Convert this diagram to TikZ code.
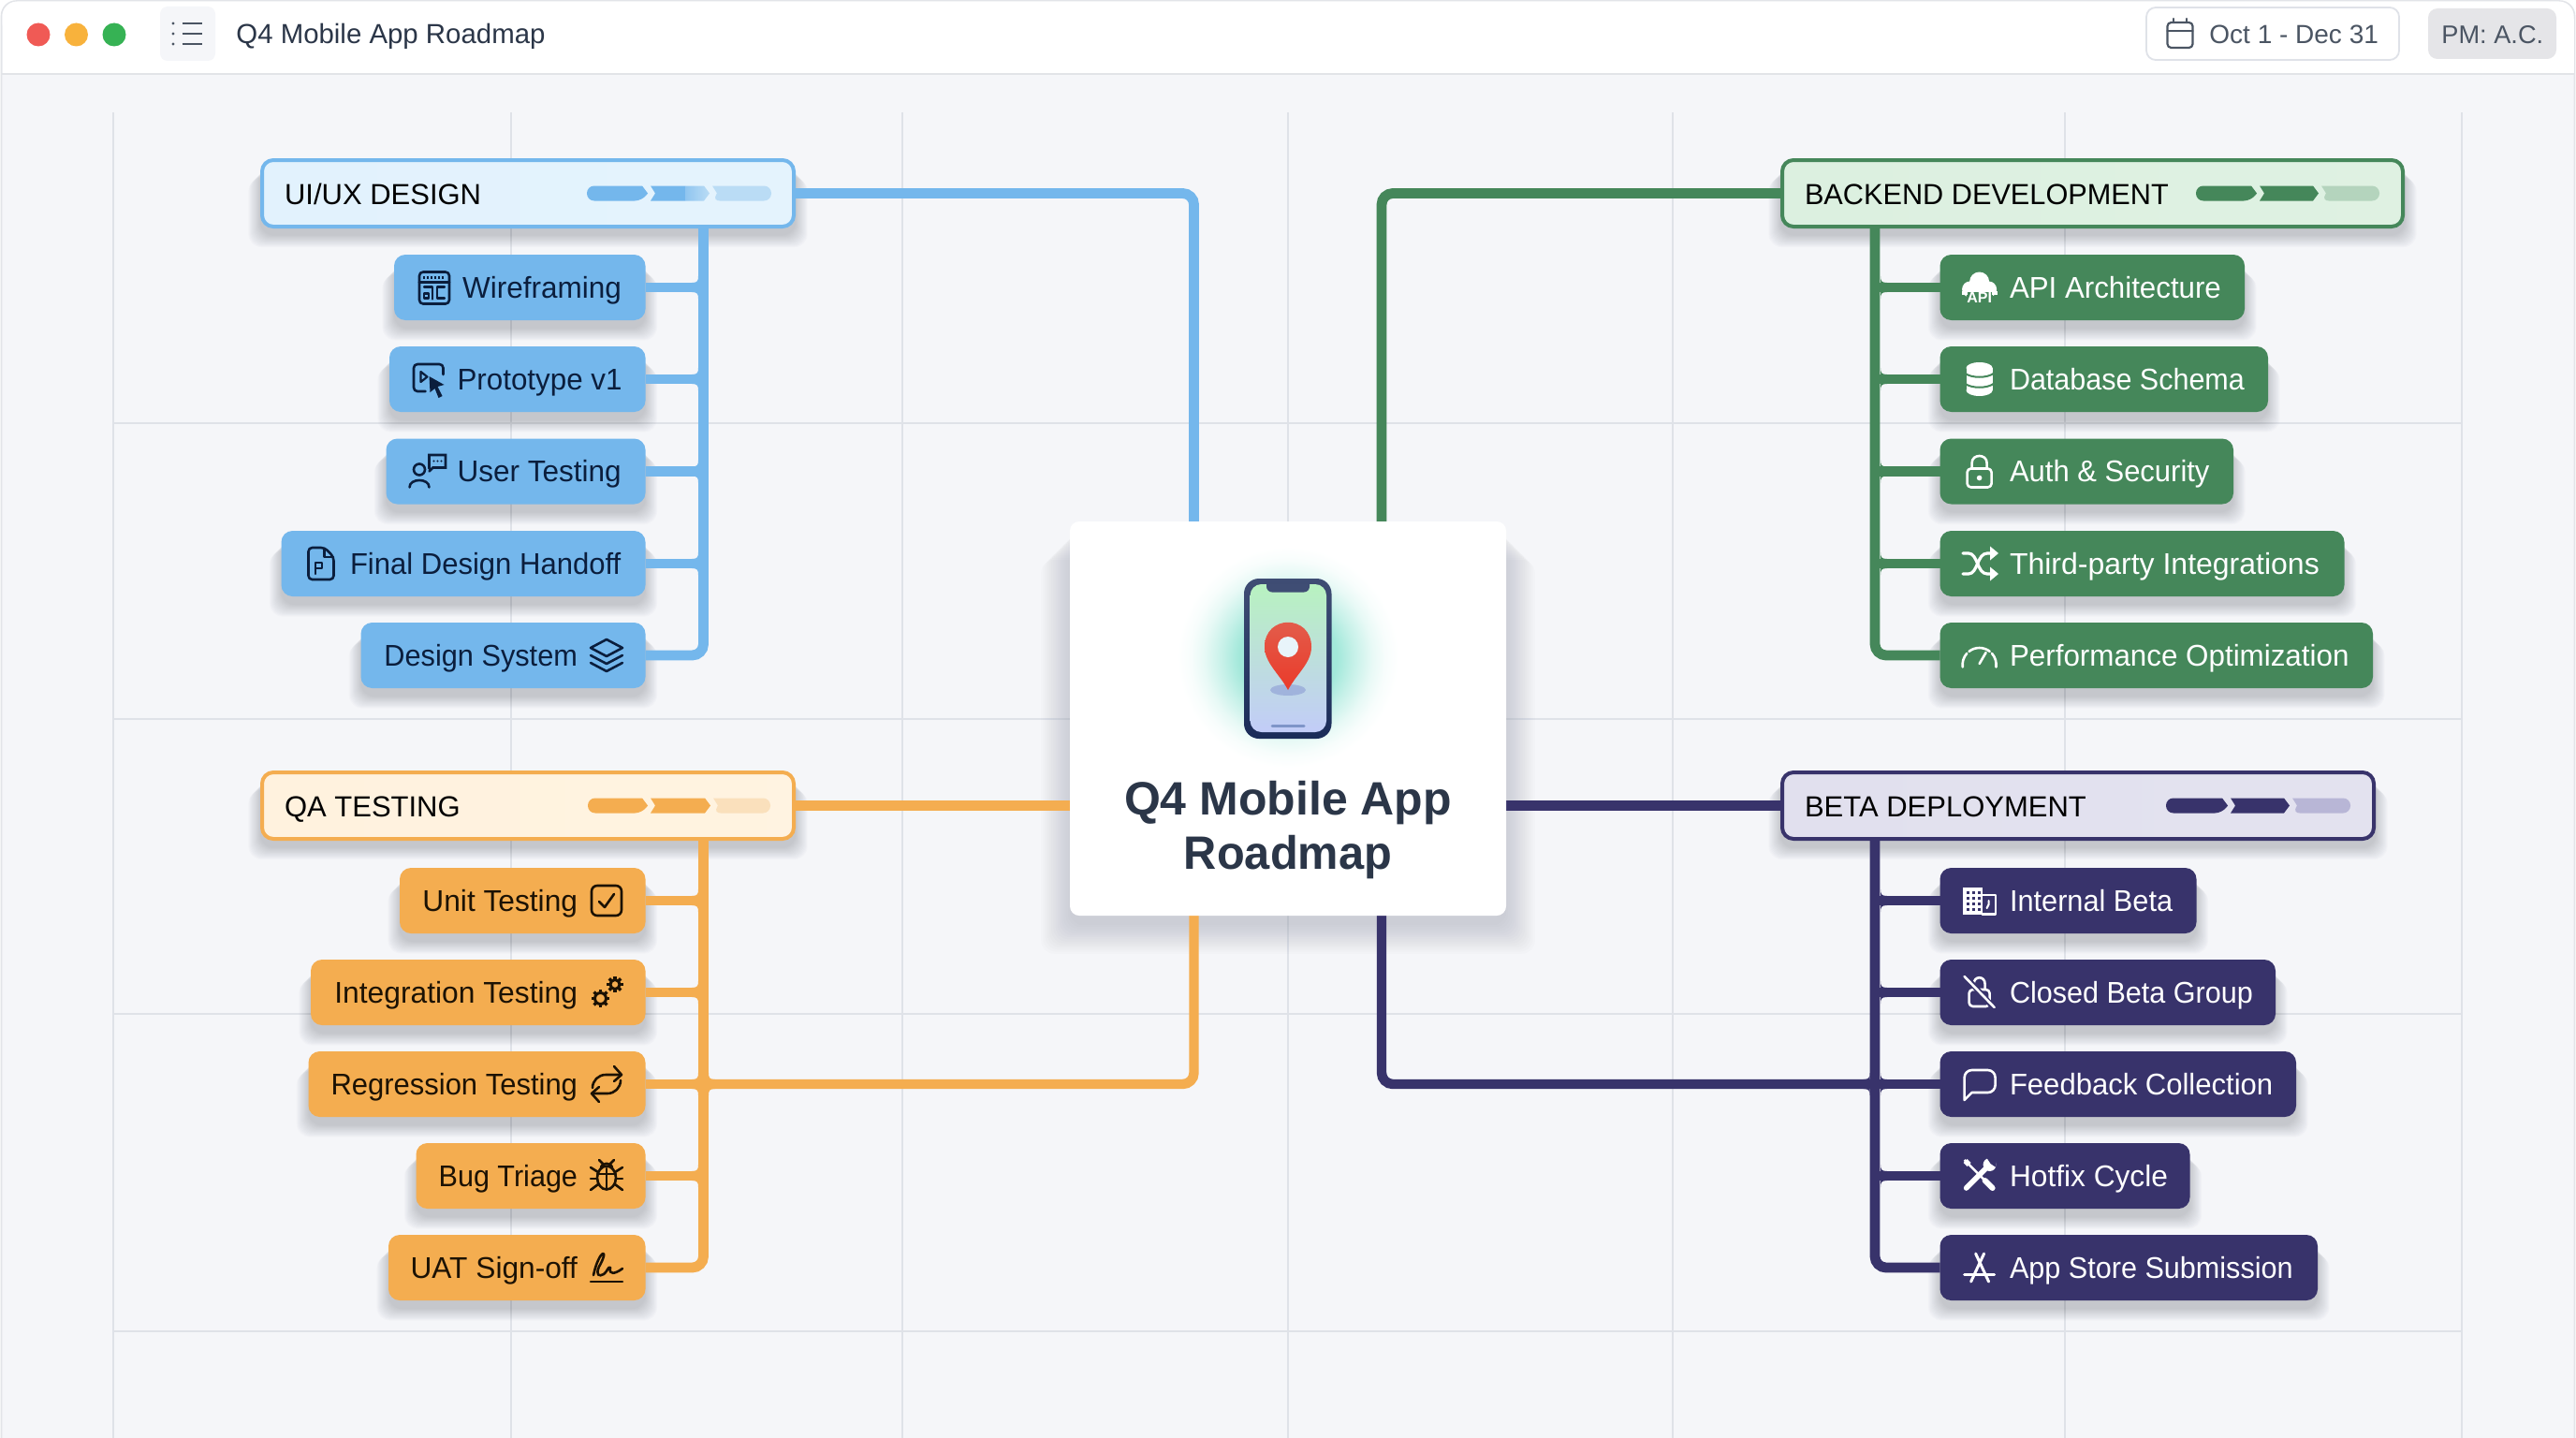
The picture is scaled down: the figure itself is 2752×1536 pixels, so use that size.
\documentclass[tikz,border=0pt]{standalone}
\usepackage{graphicx}
\usepackage{fontspec}
\setmainfont{Liberation Sans}
\usetikzlibrary{calc}
\pgfdeclarelayer{back}\pgfdeclarelayer{conn}\pgfsetlayers{back,conn,main}
\definecolor{bluec}{HTML}{74B7EC}\definecolor{greenc}{HTML}{45875A}\definecolor{orangec}{HTML}{F4AD50}\definecolor{navyc}{HTML}{38336B}
\definecolor{bluefg}{HTML}{0B1E3D}\definecolor{orangefg}{HTML}{1C1204}
\definecolor{bluel}{HTML}{BADCF5}\definecolor{orangel}{HTML}{FAE0BC}\definecolor{greenl}{HTML}{B4D4BD}\definecolor{navyl}{HTML}{B8B6D6}
\definecolor{blueh}{HTML}{E2F2FD}\definecolor{orangeh}{HTML}{FFF2DE}\definecolor{greenh}{HTML}{DCF0E0}\definecolor{navyh}{HTML}{E1E0EE}
\definecolor{canvas}{HTML}{F5F6F9}\definecolor{gridc}{HTML}{DFE2E8}\definecolor{barline}{HTML}{E2E4E8}
\definecolor{slatec}{HTML}{4B5563}\definecolor{titlec}{HTML}{2B3648}\definecolor{shc}{HTML}{2A3040}
\definecolor{glowc}{HTML}{A2E8DA}\definecolor{dotr}{HTML}{F05A55}\definecolor{doty}{HTML}{F8B23C}\definecolor{dotg}{HTML}{36B254}
\definecolor{phonet}{HTML}{3F4D74}\definecolor{phoneb}{HTML}{1A2B58}
\definecolor{scrt}{HTML}{B8F2C0}\definecolor{scrm}{HTML}{AEECF4}\definecolor{scrb}{HTML}{C2CCF8}
\definecolor{pint}{HTML}{E2604E}\definecolor{pinb}{HTML}{EA3A2A}\definecolor{pinh}{HTML}{E8F4FA}\definecolor{pins}{HTML}{96A8D8}\definecolor{homec}{HTML}{7F95C8}
\pgfdeclareradialshading{glow}{\pgfpoint{0bp}{0bp}}{color(0bp)=(glowc); color(11bp)=(glowc); color(15bp)=(glowc!60!white); color(19bp)=(glowc!25!white); color(22bp)=(glowc!8!white); color(25bp)=(white); color(50bp)=(white)}
\newcommand{\sx}[2]{\scalebox{#1}[1]{#2}}
\tikzset{
  conn/.style={line width=5.4pt,rounded corners=6pt,#1},
  leaf/.style={fill=#1,rounded corners=6pt,inner sep=0pt,outer sep=0pt,minimum height=35pt,text height=14pt,text depth=3pt,font=\fontsize{16}{19}\selectfont},
  hdr/.style 2 args={draw=#1,line width=2pt,left color=#2,right color=#2!92!white,rounded corners=6pt,inner sep=0pt,outer sep=0pt,minimum height=35.5pt,text height=14.5pt,text depth=3pt,text=black,font=\fontsize{15.5}{18}\selectfont},
  ic/.style={draw=icc,line width=1.3pt,line join=round,line cap=round},
}
\newcommand{\softshadow}[7]{\foreach \e in {14,13,...,0}{\fill[shc,opacity=#7,rounded corners=7pt] ({#1-\e*#5},{#2+#6+\e*#5}) rectangle ({#3+\e*#5},{#4+#6+\e*#5});}}
% name, left, right, cy, colour, fg, text start, text
\newcommand{\leafL}[8]{\pgfmathsetlengthmacro{\leafw}{(#3-#2)*0.5}\pgfmathsetlengthmacro{\leafo}{(#7-#2)*0.5}
  \begin{pgfonlayer}{back}\softshadow{#2}{#4-35}{#3}{#4+35}{0.9}{9}{0.016}\end{pgfonlayer}
  \node[leaf=#5,text=#6,minimum width=\leafw,anchor=west] (#1) at (#2,#4) {\makebox[\leafw][l]{\hspace*{\leafo}#8}};}
\newcommand{\leafR}[8]{\pgfmathsetlengthmacro{\leafw}{(#3-#2)*0.5}\pgfmathsetlengthmacro{\leafo}{(#3-#7)*0.5}
  \begin{pgfonlayer}{back}\softshadow{#2}{#4-35}{#3}{#4+35}{0.9}{9}{0.016}\end{pgfonlayer}
  \node[leaf=#5,text=#6,minimum width=\leafw,anchor=west] (#1) at (#2,#4) {\makebox[\leafw][r]{#8\hspace*{\leafo}}};}
% name,left,right,cy,colour,lightfill,text
\newcommand{\header}[7]{\pgfmathsetlengthmacro{\leafw}{(#3-#2-4)*0.5}\pgfmathsetlengthmacro{\leafo}{(24)*0.5}
  \begin{pgfonlayer}{back}\softshadow{#2}{#4-37}{#3}{#4+37}{0.9}{8}{0.016}\end{pgfonlayer}
  \node[hdr={#5}{#6},minimum width=\leafw,anchor=west] (#1) at (#2+2,#4) {\makebox[\leafw][l]{\hspace*{\leafo}#7}};}
% l a b r cy colour light
\newcommand{\prog}[7]{
  \fill[#6] (#2-6,#5-8) [rounded corners=3.9pt] -- (#1,#5-8) -- (#1,#5+8) -- (#2-6,#5+8) [sharp corners] -- (#2,#5) -- cycle;
  \fill[#6] (#2+3,#5-8) -- (#3-6,#5-8) -- (#3,#5) -- (#3-6,#5+8) -- (#2+3,#5+8) -- (#2+8,#5) -- cycle;
  \fill[#7] (#3+3,#5-8) [rounded corners=3.9pt] -- (#4,#5-8) -- (#4,#5+8) -- (#3+3,#5+8) [sharp corners] -- (#3+8,#5) -- cycle;}
% x edge, y, dir, colour
\newcommand{\fil}[4]{\fill[#4] (#1,#2-12) .. controls (#1,#2-7) and ({#1+#3},#2-5) .. ({#1+#3*7},#2-5) -- ({#1+#3*7},#2+5) .. controls ({#1+#3},#2+5) and (#1,#2+7) .. (#1,#2+12) -- cycle;}
\newcommand{\icon}[4]{\begin{scope}[shift={(#2,#3)}]\colorlet{icc}{#1}#4\end{scope}}
\newcommand{\gear}[3]{\begin{scope}[shift={(#1,#2)}]\draw[ic,line width=1.5pt] (0,0) circle [radius=#3];
  \foreach \a in {0,45,...,315}{\draw[icc,line width=1.7pt] (\a:#3) -- (\a:{#3+3.8});}\end{scope}}
\newcommand{\icWire}{\draw[ic,rounded corners=2pt] (-16,-17) rectangle (16,17);\draw[ic] (-16,-6)--(16,-6);
  \foreach \x in {-11,-7,...,11}{\fill[icc] (\x-1,-12.5) rectangle (\x+1,-10);}
  \draw[ic,line width=1.1pt] (-11,-1)--(-2,-1)--(-2,12); \draw[ic,line width=1.1pt] (11,-1)--(3,-1)--(3,11)--(11,11);
  \draw[ic,line width=1.1pt] (-11,6)--(-6,6)--(-6,11)--(-11,11)--cycle;}
\newcommand{\icProto}{\draw[ic,rounded corners=2pt] (-3,13) -- (-15.5,13) -- (-15.5,-16) -- (16,-16) -- (16,-5);
  \draw[ic,line width=1.1pt] (-8,-8)--(-8,3)--(-1,-2.5)--cycle;
  \fill[icc] (1,-3)--(17,6)--(10,8)--(15,18)--(11,20)--(7,10)--(2,14)--cycle;}
\newcommand{\icUser}{\draw[ic] (-8.5,-2) circle [radius=6];\draw[ic] (-19,17) .. controls (-19,7) and (2,7) .. (2,17);
  \draw[ic,line join=miter] (2,-3) -- (2,-17.5) -- (19.5,-17.5) -- (19.5,-4) -- (6,-4) -- (2,0);
  \foreach \x in {7,11,15}{\fill[icc] (\x,-11) circle [radius=1.2];}}
\newcommand{\icDoc}{\draw[ic,rounded corners=2pt] (-13.5,-17) -- (4,-17) -- (13.5,-7) -- (13.5,17) -- (-13.5,17) -- cycle;\draw[ic,line width=1.1pt] (3.5,-16) -- (3.5,-7) -- (13,-7);
  \draw[ic,line width=1.1pt] (-6,11)--(-6,-1)--(1,-1)--(1,5)--(-6,5);}
\newcommand{\icLayers}{\draw[ic] (0,-17)--(17,-8)--(0,1)--(-17,-8)--cycle;\draw[ic] (-17,0)--(0,9)--(17,0);\draw[ic] (-17,8)--(0,17)--(17,8);}
\newcommand{\icCheck}{\draw[ic,rounded corners=3pt] (-16,-16) rectangle (16,16);\draw[ic] (-8,1)--(-2,7)--(8,-7);}
\newcommand{\icGears}{\gear{-6.5}{6.5}{6}\gear{9}{-8.5}{5}}
\newcommand{\icSync}{\draw[ic,rounded corners=7pt] (-15,4) -- (-15,-10) -- (15,-10);\draw[ic] (8,-19)--(16,-10)--(8,-3);
  \draw[ic,rounded corners=7pt] (15,-4) -- (15,10) -- (-15,10);\draw[ic] (-8,3)--(-16,10)--(-8,19);}
\newcommand{\icBug}{\draw[ic] (0,3) ellipse [x radius=10,y radius=12.5];\draw[ic] (-6,-7) .. controls (-6,-14) and (6,-14) .. (6,-7);\draw[ic] (0,-7)--(0,15);\draw[ic] (-10,-1)--(10,-1);
  \foreach \s in {-1,1}{\draw[ic] (\s*9,-3)--(\s*17,-8);\draw[ic] (\s*10,4)--(\s*17,4);\draw[ic] (\s*9,10)--(\s*17,16);\draw[ic] (\s*4,-12)--(\s*8,-16);}}
\newcommand{\icSign}{\draw[ic] (-17,15)--(17,15);\draw[ic] (-14,8) .. controls (-8,-20) and (4,-22) .. (-8,-1) .. controls (-12,8) and (-8,10) .. (-3,7) .. controls (1,4) and (2,-2) .. (4,0) .. controls (2,8) and (9,7) .. (17,1);}
\newcommand{\icApi}{\fill[icc] (0,-6) circle [radius=10.5];\fill[icc] (-10,2) circle [radius=8.5];\fill[icc] (10,2) circle [radius=8.5];\fill[greenc] (-14,5) rectangle (14,19);
  \fill[icc] (-19,4) rectangle (-13,8);\fill[icc] (13,4) rectangle (19,8);\fill[icc] (-13,3) rectangle (13,5);
  \node[inner sep=0pt,text=icc,font=\fontsize{8}{9}\bfseries\selectfont] (apiword) at (0,11) {API};}
\newcommand{\icDb}{\fill[icc] (-14,-12) rectangle (14,12);\fill[icc] (0,-12) ellipse [x radius=14,y radius=6];\fill[icc] (0,12) ellipse [x radius=14,y radius=6];
  \draw[greenc,line width=1pt] (-15,-6) .. controls (-8,-1) and (8,-1) .. (15,-6);\draw[greenc,line width=1pt] (-15,5) .. controls (-8,10) and (8,10) .. (15,5);}
\newcommand{\icLock}{\draw[ic,rounded corners=2pt] (-13,-3) rectangle (13,17);\draw[ic] (-8,-3)--(-8,-9) .. controls (-8,-19) and (8,-19) .. (8,-9)--(8,-3);\fill[icc] (0,7) circle [radius=2.8];}
\newcommand{\icShuffle}{\draw[ic,line width=1.6pt] (-18,-11)--(-12,-11) .. controls (-2,-11) and (-3,11) .. (8,11)--(12,11);\draw[ic,line width=1.6pt] (-18,11)--(-12,11) .. controls (-2,11) and (-3,-11) .. (8,-11)--(12,-11);
  \fill[icc] (11,-18.5)--(20,-11)--(11,-3.5)--cycle;\fill[icc] (11,18.5)--(20,11)--(11,3.5)--cycle;}
\newcommand{\icGauge}{\begin{scope}[shift={(0,10)}]\draw[ic] (172:18) arc [start angle=172,end angle=222,radius=18];\draw[ic] (232:18) arc [start angle=232,end angle=308,radius=18];\draw[ic] (318:18) arc [start angle=318,end angle=368,radius=18];\draw[ic] (0,-1)--(7,-13);\end{scope}}
\newcommand{\icBuilding}{\fill[icc] (-18,-14) rectangle (3,15);\draw[ic,line width=1.1pt] (3,-6)--(17,-6)--(17,14.5)--(3,14.5);
  \foreach \x in {-14,-8,-2}{\foreach \y in {-10,-4,2,8}{\fill[navyc] (\x,\y) rectangle (\x+3,\y+3);}}\draw[ic,line width=1.1pt] (10,0)--(10,4)--(8,8);}
\newcommand{\icClosed}{\draw[ic,rounded corners=2pt] (-11,-3) rectangle (11,15);\draw[ic] (-6,-3)--(-6,-9) .. controls (-6,-18) and (6,-18) .. (6,-9)--(6,-3);
  \draw[navyc,line width=3pt] (-15,-17)--(15,16);\draw[ic] (-16,-17)--(16,16);}
\newcommand{\icBubble}{\draw[ic] (-16,17) [rounded corners=4pt] -- (-16,-15) -- (17,-15) -- (17,9) [sharp corners] -- (-8,9) -- cycle;}
\newcommand{\icTools}{\draw[icc,line width=2.8pt,line cap=round] (-14,14)--(6,-6);\fill[icc] (11,-11) circle [radius=7];\fill[navyc] (8,-18)--(18,-18)--(18,-8)--(12,-12)--cycle;
  \draw[icc,line width=1.3pt] (-16,-16)--(-12,-12)--(6,6);\draw[icc,line width=3pt,line cap=round] (6,6)--(14,14);\fill[icc] (-17,-13)--(-13,-17)--(-9,-13)--(-13,-9)--cycle;}
\newcommand{\icApp}{\draw[ic,line width=1.5pt] (-9,15)--(5,-15);\draw[ic,line width=1.5pt] (-4,-15)--(10,15);\draw[ic,line width=1.5pt] (-16,7)--(16,7);}
\begin{document}
\begin{tikzpicture}[x=0.5pt,y=-0.5pt]
\useasboundingbox (0,0) rectangle (2752,1536);
\begin{pgfonlayer}{back}
  \fill[white] (0,0) rectangle (2752,1536);
  \draw[fill=canvas,draw=barline,line width=0.8pt,rounded corners=8pt] (1.5,1) rectangle (2750.5,1560);
  \fill[white,rounded corners=8pt] (2.5,1.5) rectangle (2749.5,40);
  \fill[white] (2.5,20) rectangle (2749.5,79);
  \draw[barline,line width=1pt] (2,79.5)--(2750,79.5);
  \foreach \x in {121,546,964,1376,1787,2206,2630}{\draw[gridc,line width=0.8pt] (\x,120)--(\x,1536);}
  \foreach \y in {452,768,1083,1422}{\draw[gridc,line width=0.8pt] (121,\y)--(2630,\y);}
\end{pgfonlayer}
% title bar
\fill[dotr] (41,37) circle [radius=12.5];\fill[doty] (81.5,37) circle [radius=12.5];\fill[dotg] (122,37) circle [radius=12.5];
\node[fill=canvas,rounded corners=4pt,minimum width=29.5pt,minimum height=29pt,inner sep=0pt] (menu) at (200.5,36) {};
\icon{slatec}{200.5}{36}{\foreach \y in {-11,0,11}{\fill[icc] (-15.5,\y) circle [radius=1.6];\draw[icc,line width=1.4pt] (-6,\y)--(15,\y);}}
\node[anchor=base west,inner sep=0pt,text=titlec,font=\fontsize{14.7}{17}\selectfont] (apptitle) at (252,46.5) {Q4 Mobile App Roadmap};
\node[draw=gridc,line width=0.9pt,fill=white,rounded corners=5pt,minimum width=135pt,minimum height=28pt,inner sep=0pt] (datebox) at (2428,36) {};
\icon{slatec}{2329}{37}{\draw[ic,line width=1.1pt,rounded corners=2pt] (-13.5,-13) rectangle (13.5,14);\draw[ic,line width=1.1pt] (-13.5,-4)--(13.5,-4);\draw[ic,line width=1.1pt] (-7,-17)--(-7,-13);\draw[ic,line width=1.1pt] (7,-17)--(7,-13);}
\node[anchor=base west,inner sep=0pt,text=slatec,font=\fontsize{14}{17}\selectfont] (datetxt) at (2360,46.5) {Oct 1 - Dec 31};
\node[fill=gray!14!canvas,rounded corners=5pt,minimum width=68.5pt,minimum height=27pt,inner sep=0pt] (pmbox) at (2662.5,36) {};
\node[anchor=base west,inner sep=0pt,text=slatec,font=\fontsize{13.6}{16}\selectfont] (pmtxt) at (2608,46.5) {PM: A.C.};
% centre card
\begin{pgfonlayer}{back}\softshadow{1143}{557}{1609}{978}{2.2}{10}{0.012}\end{pgfonlayer}
\node[fill=white,rounded corners=5pt,minimum width=233pt,minimum height=210.5pt,inner sep=0pt,outer sep=0pt] (card) at (1376,767.5) {};
\shade[shading=glow] (1376,702) circle [radius=118];
\shade[top color=phonet,bottom color=phoneb,rounded corners=8pt] (1329,618) rectangle (1422.5,789);
\shade[top color=scrt,middle color=scrm,bottom color=scrb,rounded corners=6pt] (1335.6,624) rectangle (1417,782);
\fill[phonet] (1353,624) -- (1399,624) [rounded corners=3pt] -- (1399,632.5) -- (1353,632.5) [sharp corners] -- cycle;
\draw[homec,line width=1.5pt,line cap=round] (1359,775)--(1393,775);
\fill[pins,opacity=.75] (1376,737) ellipse [x radius=19,y radius=6];
\shade[top color=pint,bottom color=pinb] (1376,737) .. controls (1367,720) and (1351,708) .. (1351,691) .. controls (1351,656) and (1401,656) .. (1401,691) .. controls (1401,708) and (1385,720) .. (1376,737) -- cycle;
\fill[pinh] (1376,691) circle [radius=11];
\node[inner sep=0pt,align=center,text=titlec,font=\fontsize{25}{29}\bfseries\selectfont] (cardtitle) at (1376,887) {Q4 Mobile App\\\sx{.975}{Roadmap}};
% headers
\header{uih}{278}{850}{206.5}{bluec}{blueh}{UI/UX DESIGN}
\header{qah}{278}{850}{860.5}{orangec}{orangeh}{QA TESTING}
\header{beh}{1902}{2569}{206.5}{greenc}{greenh}{\sx{.99}{BACKEND DEVELOPMENT}}
\header{bdh}{1902}{2538}{860.5}{navyc}{navyh}{BETA DEPLOYMENT}
% progress bars
\fill[bluec] (686,198.5) [rounded corners=3.9pt] -- (627,198.5) -- (627,214.5) -- (686,214.5) [sharp corners] -- (692,206.5) -- cycle;
\fill[bluec] (695,198.5) -- (732,198.5) -- (732,214.5) -- (695,214.5) -- (700,206.5) -- cycle;
\shade[left color=bluec!80!white,right color=bluel] (732,198.5) -- (752,198.5) -- (758,206.5) -- (752,214.5) -- (732,214.5) -- cycle;
\fill[bluel] (761,198.5) [rounded corners=3.9pt] -- (824,198.5) -- (824,214.5) -- (761,214.5) [sharp corners] -- (766,206.5) -- cycle;
\prog{628}{692}{759}{823}{860.5}{orangec}{orangel}
\prog{2346}{2411}{2477}{2542}{206.5}{greenc}{greenl}
\prog{2314}{2380}{2446}{2511}{860.5}{navyc}{navyl}
% blue leaves
\leafL{wire}{421}{689.5}{307}{bluec}{bluefg}{494}{\sx{.985}{Wireframing}}
\leafL{proto}{416}{689.5}{405}{bluec}{bluefg}{488.5}{\sx{.98}{Prototype v1}}
\leafL{usert}{412.5}{689.5}{503.5}{bluec}{bluefg}{488.5}{\sx{.985}{User Testing}}
\leafL{finald}{300.5}{689.5}{602}{bluec}{bluefg}{374}{\sx{.97}{Final Design Handoff}}
\leafR{dsys}{385.5}{689.5}{700}{bluec}{bluefg}{617}{\sx{.96}{Design System}}
\icon{bluefg}{464}{307.5}{\icWire}
\icon{bluefg}{457.5}{405}{\icProto}
\icon{bluefg}{456.5}{503.5}{\icUser}
\icon{bluefg}{343}{602}{\icDoc}
\icon{bluefg}{648}{700}{\icLayers}
% orange leaves
\leafR{unit}{427}{689.5}{962}{orangec}{orangefg}{617}{\sx{.99}{Unit Testing}}
\leafR{integ}{332}{689.5}{1060}{orangec}{orangefg}{617}{\sx{.993}{Integration Testing}}
\leafR{regr}{329.5}{689.5}{1158}{orangec}{orangefg}{617}{\sx{.968}{Regression Testing}}
\leafR{bugt}{444.5}{689.5}{1256}{orangec}{orangefg}{617}{\sx{.955}{Bug Triage}}
\leafR{uat}{415}{689.5}{1354}{orangec}{orangefg}{617}{\sx{.99}{UAT Sign-off}}
\icon{orangefg}{648}{962}{\icCheck}
\icon{orangefg}{648}{1060}{\icGears}
\icon{orangefg}{648}{1158}{\icSync}
\icon{orangefg}{648}{1255}{\icBug}
\icon{orangefg}{648}{1354}{\icSign}
% green leaves
\leafL{apia}{2072.5}{2398}{307}{greenc}{white}{2147}{\sx{.977}{API Architecture}}
\leafL{dbs}{2072.5}{2423}{405}{greenc}{white}{2147}{\sx{.953}{Database Schema}}
\leafL{auth}{2072.5}{2386}{503.5}{greenc}{white}{2147}{\sx{.968}{Auth \& Security}}
\leafL{third}{2072.5}{2504.5}{602}{greenc}{white}{2147}{Third-party Integrations}
\leafL{perf}{2072.5}{2535}{700}{greenc}{white}{2147}{\sx{.98}{Performance Optimization}}
\icon{white}{2114.6}{307}{\icApi}
\icon{white}{2114.6}{405}{\icDb}
\icon{white}{2114.6}{503.5}{\icLock}
\icon{white}{2115}{602}{\icShuffle}
\icon{white}{2114.6}{700}{\icGauge}
% navy leaves
\leafL{intb}{2072.5}{2346.5}{962}{navyc}{white}{2147}{\sx{.96}{Internal Beta}}
\leafL{cbg}{2072.5}{2431}{1060}{navyc}{white}{2147}{\sx{.955}{Closed Beta Group}}
\leafL{fbc}{2072.5}{2453}{1158}{navyc}{white}{2147}{\sx{.97}{Feedback Collection}}
\leafL{hfc}{2072.5}{2339.5}{1256}{navyc}{white}{2147}{\sx{.99}{Hotfix Cycle}}
\leafL{asb}{2072.5}{2476}{1354}{navyc}{white}{2147}{\sx{.956}{App Store Submission}}
\icon{white}{2114.6}{962}{\icBuilding}
\icon{white}{2114.6}{1060}{\icClosed}
\icon{white}{2114.6}{1158}{\icBubble}
\icon{white}{2114.6}{1255}{\icTools}
\icon{white}{2114.6}{1354}{\icApp}
% connectors
\coordinate (uitrunk) at (751.5,240);\coordinate (qatrunk) at (751.5,895);\coordinate (betrunk) at (2003,240);\coordinate (bdtrunk) at (2003,895);
\coordinate (cardblue) at (1275.5,565);\coordinate (cardgreen) at (1476,565);\coordinate (cardorange) at (1275.5,970);\coordinate (cardnavy) at (1476,970);
\begin{pgfonlayer}{conn}
  \draw[conn=bluec] (uih.east) -| (cardblue);
  \draw[conn=greenc] (beh.west) -| (cardgreen);
  \draw[conn=orangec,line width=5.2pt] (qah.east) -- (card.west |- qah.east);
  \draw[conn=navyc,line width=5.2pt] (bdh.west) -- (card.east |- bdh.west);
  \draw[conn=orangec,line width=5.2pt] (cardorange) |- (qatrunk |- regr.east);
  \draw[conn=navyc,line width=5.2pt] (cardnavy) |- (bdtrunk |- fbc.west);
  \draw[conn=bluec] (uitrunk) |- (dsys.east);
  \draw[conn=orangec] (qatrunk) |- (uat.east);
  \draw[conn=greenc] (betrunk) |- (perf.west);
  \draw[conn=navyc] (bdtrunk) |- (asb.west);
  \foreach \n in {wire,proto,usert,finald}{\draw[conn=bluec,line width=5.2pt] (\n.east) -- (\n.east -| uitrunk);}
  \foreach \n in {unit,integ,regr,bugt}{\draw[conn=orangec,line width=5.2pt] (\n.east) -- (\n.east -| qatrunk);}
  \foreach \n in {apia,dbs,auth,third}{\draw[conn=greenc,line width=5.2pt] (\n.west) -- (\n.west -| betrunk);}
  \foreach \n in {intb,cbg,fbc,hfc}{\draw[conn=navyc,line width=5.2pt] (\n.west) -- (\n.west -| bdtrunk);}
  \foreach \y in {307,405,503.5,602}{\fil{746}{\y}{-1}{bluec}\fil{2009}{\y}{1}{greenc}}
  \foreach \y in {962,1060,1158,1256}{\fil{746}{\y}{-1}{orangec}\fil{2009}{\y}{1}{navyc}}
  \fil{757}{1158}{1}{orangec}\fil{1997.5}{1158}{-1}{navyc}
\end{pgfonlayer}
\end{tikzpicture}
\end{document}
